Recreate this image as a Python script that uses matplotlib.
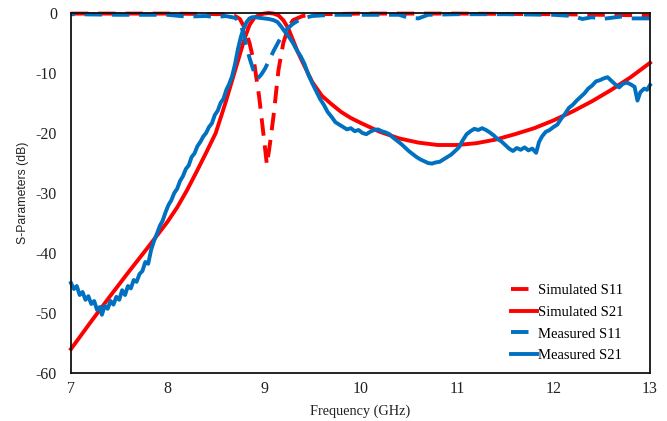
import matplotlib.pyplot as plt
from matplotlib.lines import Line2D

# Simulated S11 (dB)
sim_s11_f = [7.0, 8.0, 8.6, 8.7, 8.75, 8.8, 8.85, 8.9, 8.95, 9.0, 9.03, 9.06, 9.1, 9.15,
             9.2, 9.25, 9.3, 9.4, 9.6, 10.0, 11.0, 12.0, 12.5, 13.0]
sim_s11 = [-0.1, -0.1, -0.2, -0.5, -1.0, -2.5, -5.0, -8.5, -14.0, -21.0, -25.3, -22.0, -17.0, -9.5,
           -5.0, -2.5, -1.2, -0.5, -0.2, -0.1, -0.1, -0.2, -0.3, -0.4]

# Simulated S21 (dB)
sim_s21_f = [7.0, 7.2, 7.4, 7.6, 7.8, 8.0, 8.1, 8.2, 8.3, 8.4, 8.5, 8.6, 8.7, 8.8, 8.85, 8.9,
             8.95, 9.0, 9.05, 9.1, 9.15, 9.2, 9.25, 9.3, 9.35, 9.4, 9.5, 9.6, 9.7, 9.8, 9.9,
             10.0, 10.2, 10.4, 10.6, 10.8, 11.0, 11.2, 11.4, 11.6, 11.8, 12.0, 12.2, 12.4,
             12.6, 12.8, 13.0]
sim_s21 = [-56.0, -51.6, -47.3, -43.1, -39.0, -34.8, -32.4, -29.6, -26.5, -23.3, -20.0, -15.0,
           -9.6, -4.2, -2.0, -0.8, -0.3, -0.1, 0.0, -0.1, -0.4, -1.2, -2.5, -4.5, -6.5, -8.2,
           -11.5, -13.8, -15.2, -16.5, -17.5, -18.3, -19.8, -20.9, -21.6, -22.0, -22.0, -21.7,
           -21.1, -20.2, -19.2, -17.9, -16.4, -14.7, -12.8, -10.7, -8.3]

# Measured S11 (dB)
meas_s11_f = [7.0, 7.5, 8.0, 8.2, 8.4, 8.5, 8.6, 8.7, 8.75, 8.78, 8.81, 8.85, 8.89, 8.93, 8.97,
              9.01, 9.05, 9.1, 9.15, 9.2, 9.25, 9.3, 9.35, 9.4, 9.45, 9.5, 9.7, 10.0, 10.4, 10.5,
              10.6, 10.7, 11.0, 11.5, 12.0, 12.2, 12.3, 12.4, 12.5, 12.6, 12.7, 12.8, 13.0]
meas_s11 = [-0.2, -0.3, -0.3, -0.6, -0.5, -0.7, -0.5, -0.8, -1.5, -3.0, -5.0, -7.5, -9.5, -11.0,
            -10.3, -9.3, -8.0, -6.3, -4.8, -3.4, -2.5, -1.8, -1.3, -0.9, -0.7, -0.5, -0.3, -0.3,
            -0.3, -0.8, -0.9, -0.3, -0.2, -0.2, -0.3, -0.5, -1.0, -0.7, -1.0, -0.8, -0.6, -0.9, -0.9]

# Measured S21 (dB)
meas_s21_f = [7.00, 7.03, 7.06, 7.09, 7.12, 7.15, 7.18, 7.21, 7.24, 7.27, 7.30, 7.32, 7.35, 7.38,
              7.41, 7.44, 7.47, 7.50, 7.53, 7.56, 7.59, 7.62, 7.65, 7.68, 7.71, 7.74, 7.77, 7.80,
              7.83, 7.86, 7.89, 7.92, 7.95, 7.98, 8.01, 8.04, 8.07, 8.10, 8.13, 8.16, 8.19, 8.22,
              8.25, 8.28, 8.31, 8.34, 8.37, 8.40, 8.43, 8.46, 8.49, 8.52, 8.55, 8.58, 8.61, 8.64,
              8.67, 8.70, 8.73, 8.76, 8.79, 8.82, 8.85, 8.88, 8.91, 8.95, 9.00, 9.05, 9.10, 9.14,
              9.18, 9.22, 9.26, 9.30, 9.34, 9.38, 9.42, 9.46, 9.50, 9.54, 9.58, 9.62, 9.66, 9.70,
              9.74, 9.78, 9.82, 9.86, 9.90, 9.94, 9.98, 10.02, 10.06, 10.10, 10.14, 10.18, 10.22,
              10.26, 10.30, 10.34, 10.38, 10.42, 10.46, 10.50, 10.54, 10.58, 10.62, 10.66, 10.70,
              10.74, 10.78, 10.82, 10.86, 10.90, 10.94, 10.98, 11.02, 11.06, 11.10, 11.14, 11.18,
              11.22, 11.26, 11.30, 11.34, 11.38, 11.42, 11.46, 11.50, 11.54, 11.58, 11.62, 11.66,
              11.70, 11.74, 11.78, 11.82, 11.85, 11.88, 11.92, 11.96, 12.00, 12.04, 12.08, 12.12,
              12.16, 12.20, 12.24, 12.28, 12.32, 12.36, 12.40, 12.44, 12.48, 12.52, 12.56, 12.60,
              12.64, 12.68, 12.72, 12.76, 12.80, 12.84, 12.87, 12.90, 12.94, 12.97, 13.00]
meas_s21 = [-45.0, -46.0, -45.5, -47.0, -46.5, -47.8, -47.2, -48.5, -48.0, -49.5, -49.0, -50.3,
            -48.8, -49.3, -48.0, -48.6, -47.3, -47.8, -46.2, -47.0, -45.5, -45.9, -44.5, -44.8,
            -43.5, -43.0, -41.5, -41.8, -39.5, -38.0, -36.8, -35.5, -34.6, -33.2, -32.0, -31.2,
            -30.0, -29.3, -28.0, -27.2, -26.0, -25.4, -24.0, -23.4, -22.2, -21.5, -20.6, -20.0,
            -19.0, -18.4, -17.0, -16.3, -15.0, -14.3, -12.8, -11.8, -10.5, -8.5, -6.0, -4.0,
            -2.5, -1.5, -0.9, -0.7, -0.7, -0.8, -0.9, -1.0, -1.2, -1.5, -2.3, -3.2, -4.0, -5.0,
            -6.2, -7.2, -8.5, -10.3, -11.7, -13.0, -14.3, -15.3, -16.5, -17.3, -18.2, -18.6,
            -19.0, -19.4, -19.2, -19.7, -19.5, -20.0, -20.2, -19.8, -19.5, -19.4, -19.7, -19.9,
            -20.2, -20.8, -21.3, -21.8, -22.4, -23.0, -23.5, -24.0, -24.4, -24.7, -25.0, -25.1,
            -24.9, -24.8, -24.4, -24.0, -23.6, -23.0, -22.4, -21.2, -20.2, -19.7, -19.3, -19.5,
            -19.2, -19.5, -19.9, -20.4, -21.0, -21.4, -22.0, -22.6, -23.0, -22.5, -22.8, -22.4,
            -22.9, -22.6, -23.3, -21.5, -20.6, -19.8, -19.5, -19.0, -18.6, -17.6, -16.8, -15.8,
            -15.3, -14.6, -14.0, -13.4, -12.6, -12.1, -11.4, -11.2, -10.9, -10.7, -11.3, -11.9,
            -12.4, -11.8, -11.6, -11.9, -12.3, -14.6, -13.2, -12.6, -12.8, -12.0]

x_ticks = [7, 8, 9, 10, 11, 12, 13]
y_ticks = [0, -10, -20, -30, -40, -50, -60]
labels = ['Simulated S11', 'Simulated S21', 'Measured S11', 'Measured S21']

red = '#FF0000'
blue = '#0070C0'
lw = 2.8
dash = (4.5, 2.5)

plt.rcParams['font.family'] = ['Liberation Serif', 'DejaVu Serif']
plt.rcParams['axes.unicode_minus'] = False

fig = plt.figure(figsize=(6.67, 4.21), dpi=100)
ax = fig.add_axes([71 / 667, 1 - 373 / 421, 579 / 667, 360 / 421])

# blue dashes shifted so the red ones show between them, like the original
ax.plot(sim_s11_f, sim_s11, color=red, lw=lw, ls=(0, dash), clip_on=False)
ax.plot(sim_s21_f, sim_s21, color=red, lw=lw, clip_on=False)
ax.plot(meas_s11_f, meas_s11, color=blue, lw=lw, ls=(3.5, dash), clip_on=False)
ax.plot(meas_s21_f, meas_s21, color=blue, lw=lw, clip_on=False)

ax.set_xlim(7, 13)
ax.set_ylim(-60, 0)
ax.set_xticks(x_ticks)
ax.set_yticks(y_ticks)
ax.tick_params(length=0, labelsize=11.5, colors='#222222')
ax.tick_params(axis='y', pad=10)
ax.tick_params(axis='x', pad=6)

for s in ax.spines.values():
    s.set_color('#111111')
    s.set_linewidth(1.3)

ax.set_xlabel('Frequency (GHz)', fontsize=10.3, labelpad=5, color='#222222')
ax.set_ylabel('S-Parameters (dB)', fontsize=8.8, labelpad=5, color='#222222',
              family=['Liberation Sans', 'DejaVu Sans'])

handles = [Line2D([], [], color=red, lw=lw, ls=(0, dash)),
           Line2D([], [], color=red, lw=lw),
           Line2D([], [], color=blue, lw=lw, ls=(0, dash)),
           Line2D([], [], color=blue, lw=lw)]
ax.legend(handles, labels, loc='lower right', bbox_to_anchor=(0.955, 0.03), frameon=False,
          fontsize=10.5, borderpad=0, borderaxespad=0, handlelength=1.75, handletextpad=0.1,
          labelspacing=0.58)

fig.savefig('out.png', dpi=100)
